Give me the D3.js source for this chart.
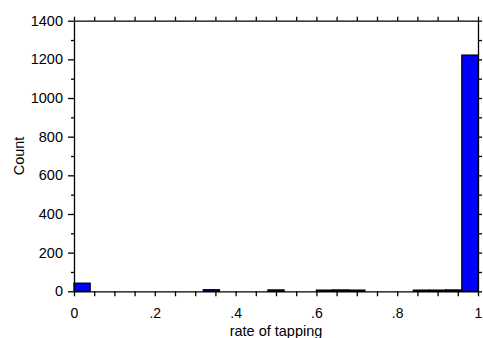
<!DOCTYPE html>
<html>
<head>
  <meta charset="UTF-8">
  <script src="https://d3js.org/d3.v7.min.js"></script>
  <style>
    body { margin: 0; background: white; }
    text { font-family: "Liberation Sans", Arial, sans-serif; }
    .axis path, .axis line { stroke: black; stroke-width: 1.3; }
  </style>
</head>
<body>
  <svg id="chart" width="483" height="338"></svg>
  <script>
    // histogram bins (start of bin, width 0.04) and counts
    const binStarts = [0, 0.32, 0.48, 0.60, 0.64, 0.68, 0.84, 0.88, 0.92, 0.96];
    const binCounts = [42, 8, 7, 6, 7, 6, 6, 6, 7, 1222];
    const binWidth = 0.04;

    const xMajor = [0, 0.2, 0.4, 0.6, 0.8, 1];
    const xMinor = [0.05, 0.1, 0.15, 0.25, 0.3, 0.35, 0.45, 0.5, 0.55, 0.65, 0.7, 0.75, 0.85, 0.9, 0.95];
    const yMajor = [0, 200, 400, 600, 800, 1000, 1200, 1400];
    const yMinor = [100, 300, 500, 700, 900, 1100, 1300];

    const svg = d3.select("svg#chart");
    const plotLeft = 74, plotRight = 478, plotTop = 20.7, plotBottom = 291.3;

    const x = d3.scaleLinear().domain([0, 1]).range([plotLeft, plotRight]);
    const y = d3.scaleLinear().domain([0, 1400]).range([plotBottom, plotTop]);

    const bins = binStarts.map((s, i) => ({ x0: s, x1: s + binWidth, n: binCounts[i] }));

    // bars
    svg.append("g").selectAll("rect").data(bins)
      .join("rect")
      .attr("x", d => x(d.x0))
      .attr("y", d => y(d.n))
      .attr("width", d => x(d.x1) - x(d.x0))
      .attr("height", d => y(0) - y(d.n))
      .attr("fill", "#0000ff")
      .attr("stroke", "black")
      .attr("stroke-width", 1.3);

    const fmtX = d => d === 0 ? "0" : d === 1 ? "1" : String(d).replace(/^0/, "");

    // bottom axis
    const bAxis = svg.append("g").attr("class", "axis")
      .attr("transform", `translate(0,${plotBottom})`)
      .call(d3.axisBottom(x).tickValues(xMajor).tickFormat(fmtX).tickSize(5).tickSizeOuter(0).tickPadding(12));
    bAxis.selectAll("text").attr("font-size", "14px").attr("fill", "black");
    svg.append("g").attr("class", "axis")
      .attr("transform", `translate(0,${plotBottom})`)
      .call(d3.axisBottom(x).tickValues(xMinor).tickFormat("").tickSize(5).tickSizeOuter(0))
      .select(".domain").remove();

    // left axis
    const lAxis = svg.append("g").attr("class", "axis")
      .attr("transform", `translate(${plotLeft},0)`)
      .call(d3.axisLeft(y).tickValues(yMajor).tickFormat(d3.format("d")).tickSize(6).tickSizeOuter(0).tickPadding(5));
    lAxis.selectAll("text").attr("font-size", "14.5px").attr("fill", "black");
    svg.append("g").attr("class", "axis")
      .attr("transform", `translate(${plotLeft},0)`)
      .call(d3.axisLeft(y).tickValues(yMinor).tickFormat("").tickSize(3).tickSizeOuter(0))
      .select(".domain").remove();

    // top axis (ticks only)
    svg.append("g").attr("class", "axis")
      .attr("transform", `translate(0,${plotTop})`)
      .call(d3.axisTop(x).tickValues(xMajor.concat(xMinor)).tickFormat("").tickSize(4).tickSizeOuter(0));

    // right axis (ticks only)
    svg.append("g").attr("class", "axis")
      .attr("transform", `translate(${plotRight},0)`)
      .call(d3.axisRight(y).tickValues(yMajor.concat(yMinor)).tickFormat("").tickSize(4).tickSizeOuter(0));

    // axis titles
    svg.append("text")
      .attr("x", (plotLeft + plotRight) / 2).attr("y", 336)
      .attr("text-anchor", "middle").attr("font-size", "14.5px")
      .text("rate of tapping");
    svg.append("text")
      .attr("transform", `translate(24,${(plotTop + plotBottom) / 2}) rotate(-90)`)
      .attr("text-anchor", "middle").attr("font-size", "14.5px")
      .text("Count");
  </script>
</body>
</html>
